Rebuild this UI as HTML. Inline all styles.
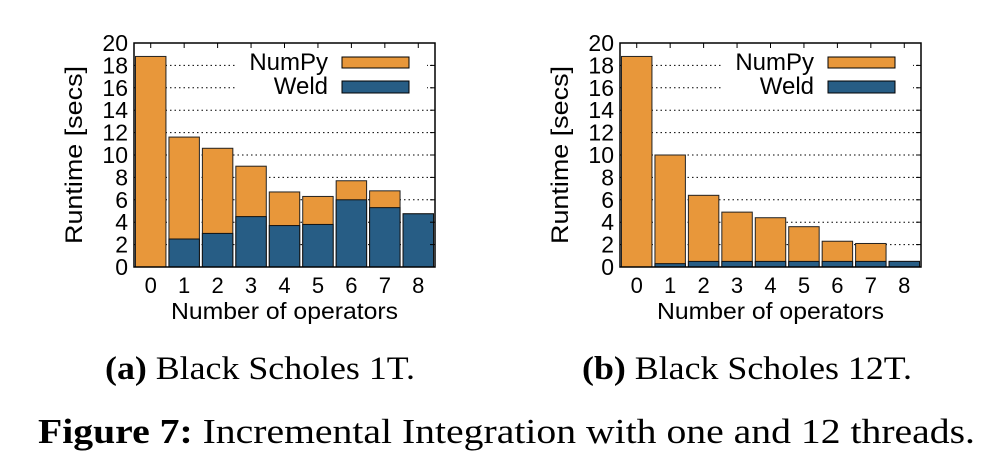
<!DOCTYPE html>
<html><head><meta charset="utf-8"><style>body{margin:0;background:#fff}svg{display:block}.serif{font-family:"Liberation Serif",serif}.sans{font-family:"Liberation Sans",sans-serif}</style></head>
<body>
<svg id="fig" class="sans" width="1002" height="472" viewBox="0 0 1002 472" xmlns="http://www.w3.org/2000/svg">
<text class="serif" x="105" y="379" font-size="33" textLength="310" lengthAdjust="spacingAndGlyphs"><tspan font-weight="bold">(a)</tspan> Black Scholes 1T.</text>
<text class="serif" x="582" y="379" font-size="33" textLength="330" lengthAdjust="spacingAndGlyphs"><tspan font-weight="bold">(b)</tspan> Black Scholes 12T.</text>
<text class="serif" x="38" y="443" font-size="35" textLength="937" lengthAdjust="spacingAndGlyphs"><tspan font-weight="bold">Figure 7:</tspan> Incremental Integration with one and 12 threads.</text>
</svg>
<script>
const categories = ["0","1","2","3","4","5","6","7","8"];
const yTicks = [0,2,4,6,8,10,12,14,16,18,20];
const weld1T = [0, 2.5, 3.0, 4.5, 3.7, 3.8, 6.0, 5.3, 4.75];
const total1T = [18.8, 11.6, 10.6, 9.0, 6.7, 6.3, 7.7, 6.8, 4.75];
const weld12T = [0, 0.3, 0.5, 0.5, 0.5, 0.5, 0.5, 0.5, 0.5];
const total12T = [18.8, 10.0, 6.4, 4.9, 4.4, 3.6, 2.3, 2.1, 0.5];

const NS = "http://www.w3.org/2000/svg";
const svg = document.getElementById('fig');
function mk(tag, attrs, parent){const e=document.createElementNS(NS,tag);for(const k in attrs)e.setAttribute(k,attrs[k]);(parent||svg).appendChild(e);return e;}

function chart(x0, x1, total, weld, name, legX){
  const yTop=43, yBot=267;
  const g = mk('g',{});
  
  
  const ys = v => yBot - (v/20)*(yBot-yTop);
  const bw = (x1-x0)/categories.length;
  const xs = i => x0 + i*bw;
  yTicks.forEach(t=>{
    if(t>0 && t<20){
      const l=mk('line',{x1:x0,x2:x1,y1:ys(t),y2:ys(t),stroke:'#000','stroke-width':1,'stroke-dasharray':'1.5,3'},g);
      
      
    }
    const tx=mk('text',{x:x0-6,y:ys(t)+8,'text-anchor':'end','font-size':23},g);
    
    
    tx.textContent=t;
  });
  mk('rect',{x:legX-105,y:50,width:190,height:48,fill:'#fff'},g);
  categories.forEach((c,i)=>{
    const bx=xs(i)+1.5, w=bw-3;
    const n=mk('rect',{x:bx,y:ys(total[i]),width:w,height:ys(0)-ys(total[i]),fill:'#e8973a',stroke:'#222','stroke-width':1},g);
    
    
    if(weld[i]>0){
      const wb=mk('rect',{x:bx,y:ys(weld[i]),width:w,height:ys(0)-ys(weld[i]),fill:'#275d85',stroke:'#111','stroke-width':1},g);
      
      
    }
    const tx=mk('text',{x:xs(i)+bw/2,y:293,'text-anchor':'middle','font-size':22},g);
    
    
    tx.textContent=c;
    mk('line',{x1:xs(i)+bw/2,x2:xs(i)+bw/2,y1:yTop,y2:yTop+5,stroke:'#000'},g);
  });
  yTicks.forEach(t=>{mk('line',{x1:x1-5,x2:x1,y1:ys(t),y2:ys(t),stroke:'#000'},g);});
  const ax=mk('rect',{x:x0,y:yTop,width:x1-x0,height:yBot-yTop,fill:'none',stroke:'#000','stroke-width':1.5},g);
  
  
  const xl=mk('text',{x:(x0+x1)/2,y:319,'text-anchor':'middle','font-size':23,textLength:227,lengthAdjust:'spacingAndGlyphs'},g);
  
  
  xl.textContent='Number of operators';
  const yl=mk('text',{x:0,y:0,'text-anchor':'middle','font-size':24,textLength:178,lengthAdjust:'spacingAndGlyphs',transform:`translate(${x0-52},${(yTop+yBot)/2}) rotate(-90)`},g);
  
  
  yl.textContent='Runtime [secs]';
  const l1=mk('text',{x:legX-14,y:70,'text-anchor':'end','font-size':24},g);
  
  
  l1.textContent='NumPy';
  const s1=mk('rect',{x:legX,y:57,width:67,height:11,fill:'#e8973a',stroke:'#000'},g);
  
  
  const l2=mk('text',{x:legX-14,y:94,'text-anchor':'end','font-size':24},g);
  
  
  l2.textContent='Weld';
  const s2=mk('rect',{x:legX,y:81,width:67,height:12,fill:'#275d85',stroke:'#000'},g);
  
  
}
chart(134, 435, total1T, weld1T, 'chart-1t', 342);
chart(620, 921, total12T, weld12T, 'chart-12t', 828);
</script>
</body></html>
